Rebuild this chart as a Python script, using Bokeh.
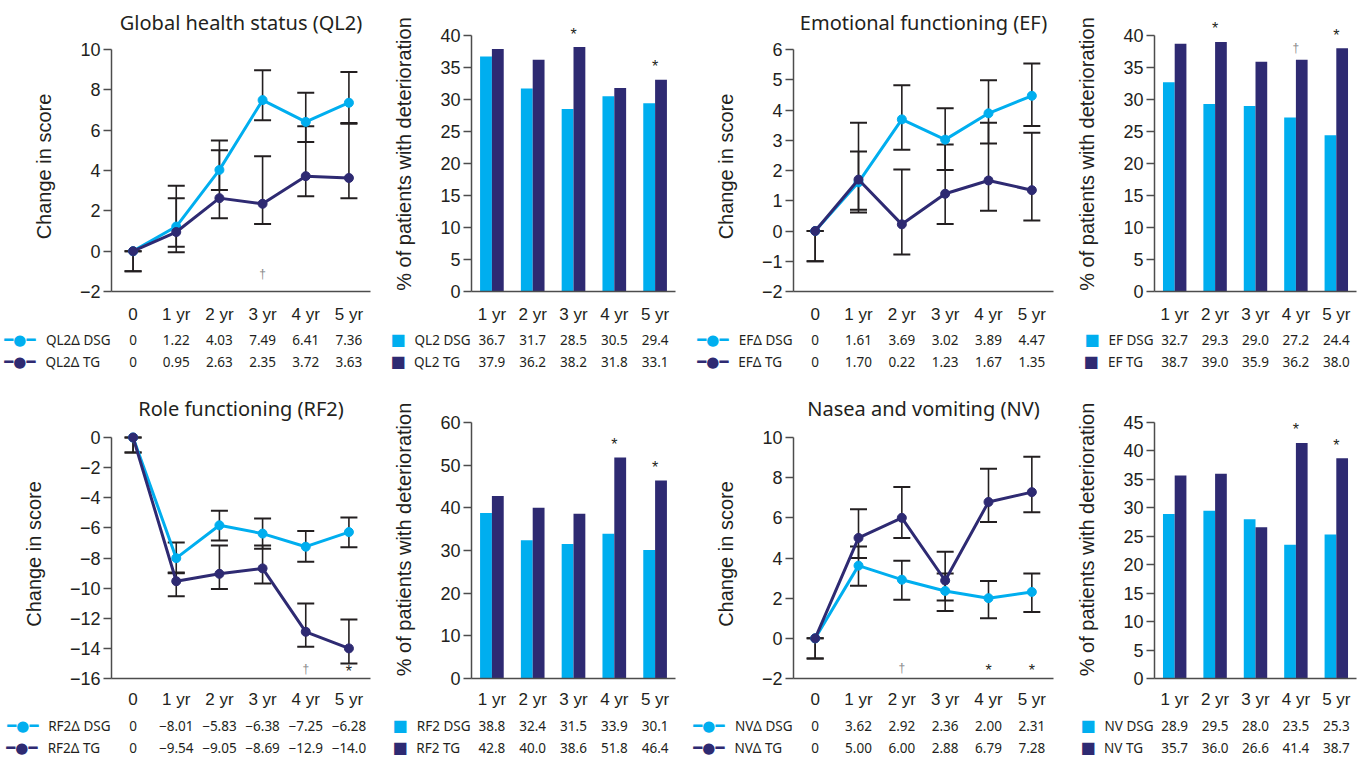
from bokeh.plotting import figure
from bokeh.models import FactorRange, Range1d, FixedTicker, ColumnDataSource, LinearAxis
from bokeh.layouts import row, column
from bokeh.transform import dodge
from bokeh.embed import file_html
from bokeh.resources import INLINE
from bokeh.core.properties import value

# ---------------- data ----------------
line_cats = ["0", "1 yr", "2 yr", "3 yr", "4 yr", "5 yr"]
bar_cats = ["1 yr", "2 yr", "3 yr", "4 yr", "5 yr"]

# Global health status (QL2)
ql2_dsg = [0, 1.22, 4.03, 7.49, 6.41, 7.36]
ql2_tg = [0, 0.95, 2.63, 2.35, 3.72, 3.63]
ql2_dsg_lo = [-1, 0.22, 3.03, 6.49, 5.41, 6.36]
ql2_dsg_hi = [0, 3.24, 5.49, 8.97, 7.85, 8.89]
ql2_tg_lo = [-1, -0.05, 1.63, 1.35, 2.72, 2.63]
ql2_tg_hi = [0, 2.62, 5.00, 4.71, 6.20, 6.32]
ql2_line_sig = ["", "", "", "†", "", ""]
ql2_bar_dsg = [36.7, 31.7, 28.5, 30.5, 29.4]
ql2_bar_tg = [37.9, 36.2, 38.2, 31.8, 33.1]
ql2_bar_sig = ["", "", "*", "", "*"]

# Emotional functioning (EF)
ef_dsg = [0, 1.61, 3.69, 3.02, 3.89, 4.47]
ef_tg = [0, 1.70, 0.22, 1.23, 1.67, 1.35]
ef_dsg_lo = [-1, 0.61, 2.69, 2.02, 2.89, 3.47]
ef_dsg_hi = [0, 2.63, 4.82, 4.06, 4.98, 5.54]
ef_tg_lo = [-1, 0.70, -0.78, 0.23, 0.67, 0.35]
ef_tg_hi = [0, 3.58, 2.03, 2.86, 3.58, 3.25]
ef_line_sig = ["", "", "", "", "", ""]
ef_bar_dsg = [32.7, 29.3, 29.0, 27.2, 24.4]
ef_bar_tg = [38.7, 39.0, 35.9, 36.2, 38.0]
ef_bar_sig = ["", "*", "", "†", "*"]

# Role functioning (RF2)
rf2_dsg = [0, -8.01, -5.83, -6.38, -7.25, -6.28]
rf2_tg = [0, -9.54, -9.05, -8.69, -12.9, -14.0]
rf2_dsg_lo = [-1, -9.01, -6.83, -7.38, -8.25, -7.28]
rf2_dsg_hi = [0, -6.97, -4.87, -5.38, -6.20, -5.31]
rf2_tg_lo = [-1, -10.54, -10.05, -9.69, -13.90, -15.00]
rf2_tg_hi = [0, -8.96, -7.17, -7.17, -11.02, -12.08]
rf2_line_sig = ["", "", "", "", "†", "*"]
rf2_bar_dsg = [38.8, 32.4, 31.5, 33.9, 30.1]
rf2_bar_tg = [42.8, 40.0, 38.6, 51.8, 46.4]
rf2_bar_sig = ["", "", "", "*", "*"]

# Nausea and vomiting (NV)
nv_dsg = [0, 3.62, 2.92, 2.36, 2.00, 2.31]
nv_tg = [0, 5.00, 6.00, 2.88, 6.79, 7.28]
nv_dsg_lo = [-1, 2.62, 1.92, 1.36, 1.00, 1.31]
nv_dsg_hi = [0, 4.57, 3.86, 3.23, 2.86, 3.23]
nv_tg_lo = [-1, 4.00, 5.00, 1.88, 5.79, 6.28]
nv_tg_hi = [0, 6.43, 7.54, 4.31, 8.44, 9.04]
nv_line_sig = ["", "", "†", "", "*", "*"]
nv_bar_dsg = [28.9, 29.5, 28.0, 23.5, 25.3]
nv_bar_tg = [35.7, 36.0, 26.6, 41.4, 38.7]
nv_bar_sig = ["", "", "", "*", "*"]

# ---------------- style ----------------
DSG = "#00AEEF"
TG = "#2E2A72"
INK = "#231F20"
AXIS = "#4D4D4D"
GRAY = "#8A8A8A"
TICK_FONT = "Liberation Sans"
TEXT_FONT = "Noto Sans"
ICON_FONT = "DejaVu Sans"
NBSP = "\u00a0"

# panel width, left border, right border
COLS = [dict(w=380, l=111, r=10), dict(w=310, l=91, r=15),
        dict(w=370, l=103, r=7), dict(w=304, l=94, r=8)]
# chart height, top tick px, bar frame top, x-axis px (from chart top), table row heights
ROWS = [dict(h=328, line_tick_top=49, bar_tick_top=35, bar_top=16, axis_y=291,
             std=13, title_std=11, tab=(22, 22)),
        dict(h=342, line_tick_top=65, bar_tick_top=50, bar_top=28, axis_y=306,
             std=11, title_std=16, tab=(22, 22))]
PAD = 8


def minus_overrides(ticks):
    return {t: ("\u2212" + str(abs(t)) if t < 0 else str(t)) for t in ticks}


def fmt_line(v):
    if v == 0:
        return "0"
    s = f"{abs(v):.1f}" if abs(v) >= 10 else f"{abs(v):.2f}"
    return ("\u2212" if v < 0 else "") + s


def clean(p):
    p.grid.visible = False
    p.outline_line_color = None
    p.background_fill_color = "white"
    p.border_fill_color = "white"


def base_fig(col, rw, top, x_range, y_range):
    p = figure(width=col["w"], height=rw["h"], x_range=x_range, y_range=y_range,
               output_backend="svg", toolbar_location=None,
               min_border_left=col["l"], min_border_right=col["r"],
               min_border_top=top, min_border_bottom=rw["h"] - rw["axis_y"])
    clean(p)
    xa = p.xaxis[0]
    xa.axis_line_color = AXIS
    xa.axis_line_width = 1.5
    xa.major_tick_line_color = None
    xa.major_tick_out = 0
    xa.major_tick_in = 0
    xa.minor_tick_line_color = None
    xa.major_label_standoff = rw["std"]
    xa.major_label_text_font = TICK_FONT
    xa.major_label_text_font_size = "17px"
    xa.major_label_text_color = INK
    ya = p.yaxis[0]
    ya.axis_line_color = AXIS
    ya.axis_line_width = 1.5
    ya.major_tick_line_color = AXIS
    ya.major_tick_line_width = 1.5
    ya.major_tick_out = 8
    ya.major_tick_in = 0
    ya.minor_tick_line_color = None
    ya.major_label_standoff = 3
    ya.major_label_text_font = TICK_FONT
    ya.major_label_text_font_size = "18px"
    ya.major_label_text_color = INK
    ya.axis_label_text_font = TICK_FONT
    ya.axis_label_text_font_size = "20px"
    ya.axis_label_text_font_style = "normal"
    ya.axis_label_text_color = INK
    ya.axis_label_standoff = 22
    return p


def plain_axis(ax, label, font, size, color, standoff):
    ax.ticker = FixedTicker(ticks=[1])
    ax.major_label_overrides = {1: label}
    ax.axis_line_color = None
    ax.major_tick_line_color = None
    ax.minor_tick_line_color = None
    ax.major_tick_out = 0
    ax.major_tick_in = 0
    ax.major_label_standoff = standoff
    ax.major_label_text_font = font
    ax.major_label_text_font_size = size
    ax.major_label_text_color = color


def tab_fig(col, h, x_range, cats, texts, label, icon, icon_size, icon_gap, color):
    """One table row: legend icon + label left of the frame, values under the categories."""
    t = figure(width=col["w"], height=h, x_range=x_range, y_range=Range1d(0, 2),
               output_backend="svg", toolbar_location=None,
               min_border_left=col["l"], min_border_right=col["r"],
               min_border_top=0, min_border_bottom=0,
               x_axis_location=None, y_axis_location="left")
    clean(t)
    plain_axis(t.yaxis[0], label, TEXT_FONT, "13.5px", INK, 1)
    ia = LinearAxis()
    plain_axis(ia, icon, ICON_FONT, icon_size, color, icon_gap)
    t.add_layout(ia, "left")
    t.text(x=cats, y=[1] * len(cats), text=texts, text_align="center", text_baseline="middle",
           text_font=value(TEXT_FONT), text_font_size="13.5px", text_color=INK)
    return t


def add_sig(p, cats, sig, ys, star_off, dagger_off):
    st = [(c, y) for c, m, y in zip(cats, sig, ys) if m == "*"]
    dg = [(c, y) for c, m, y in zip(cats, sig, ys) if m == "†"]
    if st:
        p.text(x=[a for a, _ in st], y=[b for _, b in st], text=["*"] * len(st),
               text_align="center", text_baseline="alphabetic", y_offset=star_off,
               text_font=value(TICK_FONT), text_font_size="16px", text_color=INK)
    if dg:
        p.text(x=[a for a, _ in dg], y=[b for _, b in dg], text=["†"] * len(dg),
               text_align="center", text_baseline="alphabetic", y_offset=dagger_off,
               text_font=value(TICK_FONT), text_font_size="12px", text_color=GRAY)


def line_panel(col, rw, title, prefix, dsg, tg, dsg_lo, dsg_hi, tg_lo, tg_hi,
               sig, sig_px, yticks):
    ymin, ymax = min(yticks), max(yticks)
    span = rw["axis_y"] - rw["line_tick_top"]
    y_end = ymax + PAD * (ymax - ymin) / span
    xr = FactorRange(factors=line_cats, range_padding=0)
    p = base_fig(col, rw, rw["line_tick_top"] - PAD, xr, Range1d(ymin, y_end))
    p.title.text = title
    p.title.align = "center"
    p.title.text_font = TEXT_FONT
    p.title.text_font_size = "20px"
    p.title.text_font_style = "normal"
    p.title.text_color = INK
    p.title.standoff = rw["title_std"]
    ya = p.yaxis[0]
    ya.ticker = FixedTicker(ticks=yticks)
    ya.major_label_overrides = minus_overrides(yticks)
    ya.bounds = (ymin, ymax)
    ya.axis_label = "Change in score"

    for lo, hi in ((dsg_lo, dsg_hi), (tg_lo, tg_hi)):
        src = ColumnDataSource(dict(x=line_cats, lo=lo, hi=hi))
        p.segment(x0="x", y0="lo", x1="x", y1="hi", source=src, line_color=INK, line_width=1.6)
        p.scatter(x="x", y="hi", marker="dash", size=17, line_color=INK, line_width=2, source=src)
        p.scatter(x="x", y="lo", marker="dash", size=17, line_color=INK, line_width=2, source=src)
    for ys, c in ((dsg, DSG), (tg, TG)):
        p.line(x=line_cats, y=ys, line_color=c, line_width=3)
        p.scatter(x=line_cats, y=ys, size=9, fill_color=c, line_color=c)
    add_sig(p, line_cats, sig, [ymin] * len(line_cats), -sig_px + 3, -sig_px)

    icon = "\u2501\u25cf\u2501"
    t1 = tab_fig(col, rw["tab"][0], xr, line_cats, [fmt_line(v) for v in dsg],
                 f"{prefix}\u0394 DSG", icon, "15px", 7, DSG)
    t2 = tab_fig(col, rw["tab"][1], xr, line_cats, [fmt_line(v) for v in tg],
                 f"{prefix}\u0394 TG" + NBSP * 3, icon, "15px", 7, TG)
    return column(p, t1, t2)


def bar_panel(col, rw, prefix, dsg, tg, sig, ytop, ystep):
    span = rw["axis_y"] - rw["bar_tick_top"]
    y_end = ytop + (rw["bar_tick_top"] - rw["bar_top"]) * ytop / span
    xr = FactorRange(factors=bar_cats, range_padding=0)
    p = base_fig(col, rw, rw["bar_top"], xr, Range1d(0, y_end))
    ticks = list(range(0, ytop + 1, ystep))
    ya = p.yaxis[0]
    ya.ticker = FixedTicker(ticks=ticks)
    ya.bounds = (0, ytop)
    ya.axis_label = "% of patients with deterioration"
    src = ColumnDataSource(dict(x=bar_cats, dsg=dsg, tg=tg))
    p.vbar(x=dodge("x", -0.145, range=xr), top="dsg", width=0.29, source=src,
           fill_color=DSG, line_color=None)
    p.vbar(x=dodge("x", 0.145, range=xr), top="tg", width=0.29, source=src,
           fill_color=TG, line_color=None)
    add_sig(p, bar_cats, sig, [max(a, b) for a, b in zip(dsg, tg)], -13, -12)

    icon = "\u25a0"
    t1 = tab_fig(col, rw["tab"][0], xr, bar_cats, [f"{v:.1f}" for v in dsg],
                 f"{prefix} DSG", icon, "16px", 6, DSG)
    t2 = tab_fig(col, rw["tab"][1], xr, bar_cats, [f"{v:.1f}" for v in tg],
                 f"{prefix} TG" + NBSP * 3, icon, "16px", 6, TG)
    return column(p, t1, t2)


r1, r2 = ROWS
top_row = row(
    line_panel(COLS[0], r1, "Global health status (QL2)", "QL2", ql2_dsg, ql2_tg,
               ql2_dsg_lo, ql2_dsg_hi, ql2_tg_lo, ql2_tg_hi, ql2_line_sig, 18,
               [-2, 0, 2, 4, 6, 8, 10]),
    bar_panel(COLS[1], r1, "QL2", ql2_bar_dsg, ql2_bar_tg, ql2_bar_sig, 40, 5),
    line_panel(COLS[2], r1, "Emotional functioning (EF)", "EF", ef_dsg, ef_tg,
               ef_dsg_lo, ef_dsg_hi, ef_tg_lo, ef_tg_hi, ef_line_sig, 18,
               [-2, -1, 0, 1, 2, 3, 4, 5, 6]),
    bar_panel(COLS[3], r1, "EF", ef_bar_dsg, ef_bar_tg, ef_bar_sig, 40, 5),
)
bottom_row = row(
    line_panel(COLS[0], r2, "Role functioning (RF2)", "RF2", rf2_dsg, rf2_tg,
               rf2_dsg_lo, rf2_dsg_hi, rf2_tg_lo, rf2_tg_hi, rf2_line_sig, 10,
               [-16, -14, -12, -10, -8, -6, -4, -2, 0]),
    bar_panel(COLS[1], r2, "RF2", rf2_bar_dsg, rf2_bar_tg, rf2_bar_sig, 60, 10),
    line_panel(COLS[2], r2, "Nasea and vomiting (NV)", "NV", nv_dsg, nv_tg,
               nv_dsg_lo, nv_dsg_hi, nv_tg_lo, nv_tg_hi, nv_line_sig, 11,
               [-2, 0, 2, 4, 6, 8, 10]),
    bar_panel(COLS[3], r2, "NV", nv_bar_dsg, nv_bar_tg, nv_bar_sig, 45, 5),
)
layout = column(top_row, bottom_row)
open("out.html", "w").write(file_html(layout, INLINE))
